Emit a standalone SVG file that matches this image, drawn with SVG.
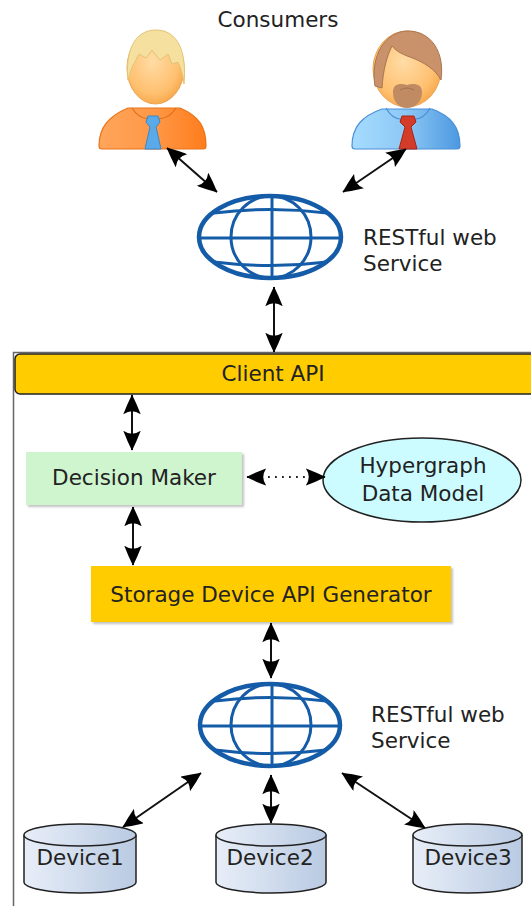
<svg xmlns="http://www.w3.org/2000/svg" width="531" height="906" viewBox="0 0 531 906">
  <style>
    .lbl { font-family: "DejaVu Sans", "Liberation Sans", sans-serif; font-size: 21.5px; fill: #222; }
    .mid { text-anchor: middle; }
    .conn { stroke: #111; stroke-width: 2; fill: none; marker-start: url(#head); marker-end: url(#head); }
    .dot { stroke: #222; stroke-width: 1.8; fill: none; stroke-dasharray: 1.8 5.2; marker-start: url(#head); marker-end: url(#head); }
    .globe-line { stroke: #155ca8; fill: none; stroke-width: 3; }
    .globe-rim { stroke: #155ca8; fill: none; stroke-width: 4.5; }
    .drum { fill: url(#drumFill); stroke: #222; stroke-width: 1.5; }
  </style>
  <defs>
    <marker id="head" viewBox="0 0 16 14" refX="15.5" refY="7" markerWidth="20" markerHeight="17.5" markerUnits="userSpaceOnUse" orient="auto-start-reverse">
      <path d="M0,0 Q8,3 16,7 Q8,11 0,14 Q5,7 0,0 Z" fill="#000"/>
    </marker>
    <linearGradient id="drumFill" x1="0" y1="0" x2="1" y2="0">
      <stop offset="0" stop-color="#e8eef8"/>
      <stop offset="1" stop-color="#b9cae2"/>
    </linearGradient>
    <radialGradient id="face" cx="0.45" cy="0.4" r="0.65">
      <stop offset="0" stop-color="#ffdca6"/>
      <stop offset="0.7" stop-color="#ffc070"/>
      <stop offset="1" stop-color="#f5a445"/>
    </radialGradient>
    <linearGradient id="orangeShirt" x1="0" y1="0" x2="1" y2="0">
      <stop offset="0" stop-color="#ffa55a"/>
      <stop offset="0.5" stop-color="#ff9848"/>
      <stop offset="1" stop-color="#ff7d1c"/>
    </linearGradient>
    <linearGradient id="blueShirt" x1="0" y1="0" x2="1" y2="0">
      <stop offset="0" stop-color="#a6dcff"/>
      <stop offset="0.5" stop-color="#8cc8f5"/>
      <stop offset="1" stop-color="#4c98e0"/>
    </linearGradient>
    <filter id="shade" x="-5%" y="-10%" width="115%" height="130%">
      <feDropShadow dx="2" dy="2" stdDeviation="1" flood-color="#999" flood-opacity="0.6"/>
    </filter>
  </defs>

  <text class="lbl mid" x="278" y="27">Consumers</text>

  <!-- consumer on the left -->
  <g id="consumer1">
    <path d="M99,146 C99,127 109,116 128,108 L180,108 C199,116 206,127 206,146 Q206,149 203,149 L102,149 Q99,149 99,146 Z" fill="url(#orangeShirt)" stroke="#e8741a" stroke-width="1.2"/>
    <path d="M132,108 Q140,121 152,118 M176,108 Q168,121 155,118" stroke="#e07018" stroke-width="1.2" fill="none"/>
    <path d="M148,116 L158,116 L160,122 L156,127 L161,149 L145,149 L150,127 L146,122 Z" fill="#5aaaea" stroke="#3a88c8" stroke-width="1"/>
    <ellipse cx="155.5" cy="68" rx="28.5" ry="36" fill="url(#face)" stroke="#eca350" stroke-width="1"/>
    <path d="M128,80 C125,52 134,30 156,30 C178,30 187,52 184,84 C183,75 181,68 178,62 L172,64 L168,54 L160,60 L152,50 L146,58 L139,54 L135,62 C132,66 130,72 128,80 Z" fill="#f6e0a0" stroke="#e2c473" stroke-width="1"/>
  </g>

  <!-- consumer on the right -->
  <g id="consumer2">
    <path d="M352,146 C352,127 362,116 382,109 L432,109 C451,116 460,127 460,146 Q460,149 457,149 L355,149 Q352,149 352,146 Z" fill="url(#blueShirt)" stroke="#4a90d8" stroke-width="1.2"/>
    <path d="M386,108 Q393,121 405,119 M430,108 Q423,121 411,119" stroke="#4a8ed4" stroke-width="1.2" fill="none"/>
    <path d="M402,116 L414,116 L416,122 L411,127 L417,149 L399,149 L405,127 L400,122 Z" fill="#d43c2a" stroke="#a82418" stroke-width="1"/>
    <ellipse cx="407" cy="69" rx="34" ry="38" fill="url(#face)" stroke="#eca350" stroke-width="1"/>
    <path d="M375,86 C370,56 385,31 408,31 C431,31 445,52 441,80 C436,70 424,62 410,57 C401,54 395,50 392,46 C387,56 383,70 382,88 Z" fill="#c9926a" stroke="#aa7550" stroke-width="1"/>
    <path d="M393,92 C393,84 400,83 407,85 C414,83 422,84 422,92 C422,102 415,108 407,108 C399,108 393,102 393,92 Z" fill="#c08a62"/>
    <path d="M400,90 Q407,86 414,90" stroke="#a07050" stroke-width="1" fill="none"/>
  </g>

  <!-- web service above the client API -->
  <g id="webservice1">
    <ellipse class="globe-rim" cx="270" cy="237" rx="71" ry="41"/>
    <ellipse class="globe-line" cx="271" cy="237" rx="40" ry="41"/>
    <line class="globe-line" x1="272" y1="196" x2="272" y2="278"/>
    <line class="globe-line" x1="200" y1="238" x2="341" y2="238"/>
    <path class="globe-line" d="M214,213 Q271,206 327,213 M214,262 Q271,269 327,262"/>
    <text class="lbl" x="363" y="245">RESTful web</text>
    <text class="lbl" x="363" y="271">Service</text>
  </g>

  <!-- system boundary and client API bar -->
  <g id="clientapi">
    <path d="M13.5,906 V352.5 H531" fill="none" stroke="#666" stroke-width="1.5"/>
    <rect x="15" y="354" width="530" height="40" rx="5" fill="#ffcc00" stroke="#222" stroke-width="1.5"/>
    <text class="lbl mid" x="273" y="381">Client API</text>
  </g>

  <g id="decisionmaker">
    <rect x="26" y="452" width="216" height="53" fill="#cff5cf" filter="url(#shade)"/>
    <text class="lbl mid" x="134" y="485">Decision Maker</text>
  </g>

  <g id="hypergraph">
    <ellipse cx="422" cy="480" rx="99" ry="42" fill="#ccfcff" stroke="#222" stroke-width="1.5"/>
    <text class="lbl mid" x="423" y="473">Hypergraph</text>
    <text class="lbl mid" x="423" y="501">Data Model</text>
  </g>

  <g id="apigenerator">
    <rect x="91" y="566" width="360" height="56" fill="#ffcc00" filter="url(#shade)"/>
    <text class="lbl mid" x="271" y="602">Storage Device API Generator</text>
  </g>

  <!-- web service in front of the devices -->
  <g id="webservice2">
    <ellipse class="globe-rim" cx="270" cy="725" rx="70" ry="41"/>
    <ellipse class="globe-line" cx="271" cy="725" rx="40" ry="41"/>
    <line class="globe-line" x1="272" y1="684" x2="272" y2="766"/>
    <line class="globe-line" x1="201" y1="726" x2="340" y2="726"/>
    <path class="globe-line" d="M215,701 Q271,694 326,701 M215,750 Q271,757 326,750"/>
    <text class="lbl" x="371" y="722">RESTful web</text>
    <text class="lbl" x="371" y="748">Service</text>
  </g>

  <g id="device1">
    <path class="drum" d="M24,835 V882 A56,11 0 0 0 136,882 V835"/>
    <ellipse class="drum" cx="80" cy="835" rx="56" ry="11"/>
    <text class="lbl mid" x="80" y="865">Device1</text>
  </g>
  <g id="device2">
    <path class="drum" d="M216,835 V882 A55,11 0 0 0 326,882 V835"/>
    <ellipse class="drum" cx="271" cy="835" rx="55" ry="11"/>
    <text class="lbl mid" x="270" y="865">Device2</text>
  </g>
  <g id="device3">
    <path class="drum" d="M413,835 V882 A54.5,11 0 0 0 522,882 V835"/>
    <ellipse class="drum" cx="467.5" cy="835" rx="54.5" ry="11"/>
    <text class="lbl mid" x="468" y="865">Device3</text>
  </g>

  <g id="connectors">
    <line class="conn" x1="167" y1="148" x2="217" y2="192"/>
    <line class="conn" x1="406" y1="149" x2="343" y2="192"/>
    <line class="conn" x1="274" y1="287" x2="274" y2="352"/>
    <line class="conn" x1="132" y1="395" x2="132" y2="450"/>
    <line class="dot" x1="247" y1="477" x2="325" y2="477"/>
    <line class="conn" x1="133" y1="507" x2="133" y2="565"/>
    <line class="conn" x1="271" y1="623" x2="271" y2="678"/>
    <line class="conn" x1="123" y1="827" x2="201" y2="773"/>
    <line class="conn" x1="271" y1="775" x2="271" y2="823"/>
    <line class="conn" x1="342" y1="773" x2="425" y2="828"/>
  </g>
</svg>
